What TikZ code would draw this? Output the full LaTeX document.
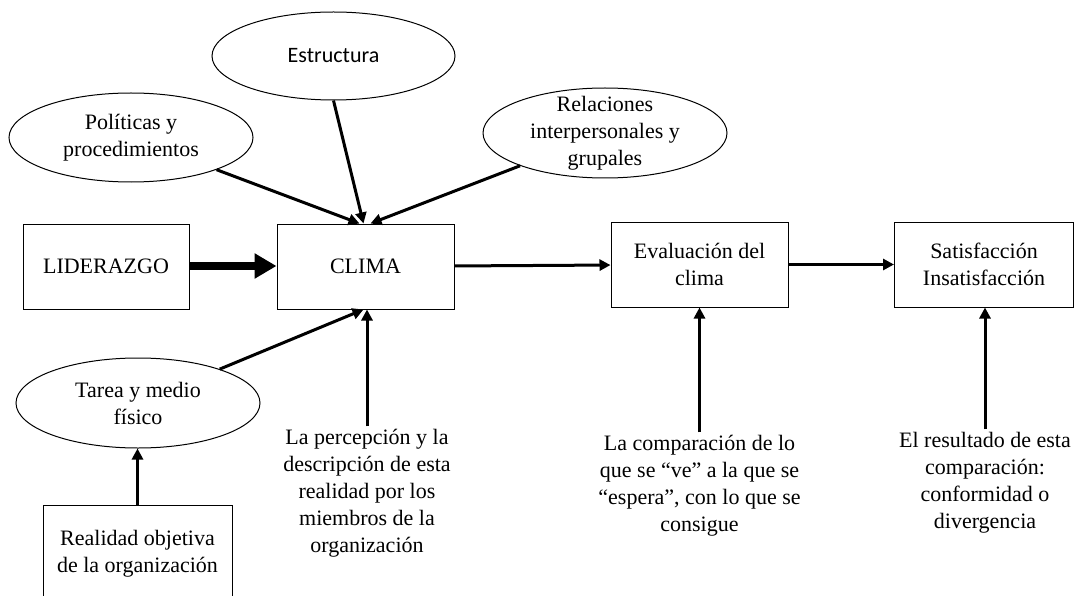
\documentclass[tikz,border=0pt]{standalone}
\usepackage{fontspec}
\setmainfont{Liberation Serif}
\newfontfamily\calibrifont{Carlito}
\usetikzlibrary{shapes,arrows.meta,positioning}

\begin{document}
\begin{tikzpicture}[x=1pt, y=-1pt,
  every node/.append style={font=\fontsize{22}{27}\selectfont},
  caja/.style={draw, line width=1pt, align=center, minimum height=85pt},
  elipse/.style={draw, ellipse, line width=1pt, align=center, inner xsep=0pt,
    inner ysep=-12pt, minimum width=244pt, minimum height=89pt},
  texto/.style={align=center, inner sep=3pt},
  flecha/.style={line width=3pt, -{Triangle[length=11pt,width=11pt]}},
  gruesa/.style={line width=8pt, -{Triangle[length=22pt,width=24pt]}}]
\useasboundingbox (0,0) rectangle (1075,596);

% cajas principales
\node [caja, minimum width=166pt] (lid) at (106,266.5) {LIDERAZGO};
\node [caja, minimum width=177pt] (clima) at (365.5,266.5) {CLIMA};
\node [caja, minimum width=177pt] (eval) at (699.5,264.5) {Evaluación del\\clima};
\node [caja, minimum width=179pt] (satis) at (984,264.5) {Satisfacción\\Insatisfacción};

% elipses
\node [elipse, minimum width=243pt, minimum height=88pt,
  font=\calibrifont\fontsize{22}{27}\selectfont] (est) at (333.5,56) {Estructura};
\node [elipse] (pol) at (131,137.5) {Políticas y\\procedimientos};
\node [elipse, minimum height=90pt] (rel) at (605,133) {Relaciones\\interpersonales y\\grupales};
\node [elipse, minimum height=90pt] (tarea) at (138,403) {Tarea y medio\\físico};
\node [caja, minimum width=189pt, minimum height=96pt] (real) at (137.5,553.5)
  {Realidad objetiva\\de la organización};

% textos sueltos
\node [texto] (perc) at (367,493.5) {La percepción y la\\descripción de esta\\realidad por los\\miembros de la\\organización};
\node [texto] (comp) at (699.5,486) {La comparación de lo\\que se “ve” a la que se\\“espera”, con lo que se\\consigue};
\node [texto] (res) at (985,483) {El resultado de esta\\comparación:\\conformidad o\\divergencia};

% flechas
\draw [gruesa] (lid.east |- 0,266) -- (clima.west |- 0,266);
\draw [flecha] (pol) -- ([xshift=-6pt]clima.north);
\draw [flecha] (est.south) -- ([xshift=-2pt]clima.north);
\draw [flecha] (rel) -- ([xshift=5pt]clima.north);
\draw [flecha] (tarea) -- ([xshift=-2pt]clima.south);
\draw [flecha] (perc.north) -- (perc.north |- clima.south);
\draw [flecha] (real.north) -- (real.north |- tarea.south);
\draw [flecha] (clima) -- (eval);
\draw [flecha] (eval) -- (satis);
\draw [flecha] (comp.north) -- (comp.north |- eval.south);
\draw [flecha] (res.north) -- (res.north |- satis.south);
\end{tikzpicture}
\end{document}
